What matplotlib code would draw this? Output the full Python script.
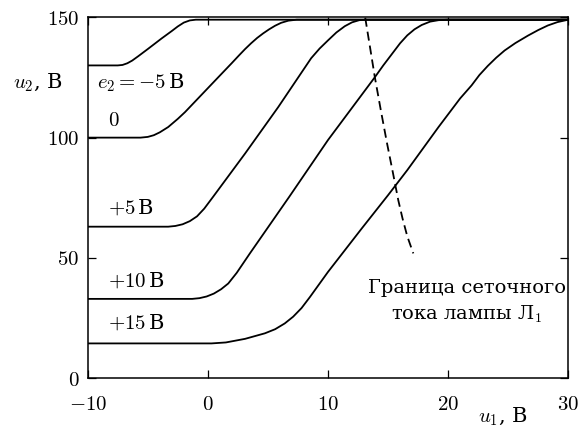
import matplotlib
matplotlib.use("Agg")
import matplotlib.pyplot as plt
import matplotlib.transforms as mtransforms

plt.rcParams['font.family'] = ['DejaVu Serif']
plt.rcParams['mathtext.fontset'] = 'cm'

# Anode characteristics u2(u1) for several grid voltages e2
x_m5 = [-10, -7.5, -7.1, -6.7, -6.3, -5.8, -5.0, -3.85, -3.0, -2.5, -2.0, -1.5, -1.0, 30]
y_m5 = [130, 130, 130.2, 130.9, 132.0, 133.8, 136.8, 141.2, 144.3, 146.2, 147.8, 148.7, 149, 149]

x_0 = [-10, -5.6, -5.0, -4.5, -4.0, -3.3, -2.5, -1.9, 0.87, 2.0, 2.6, 3.1, 3.6, 4.1, 4.6,
       5.1, 5.6, 6.1, 6.7, 7.4, 30]
y_0 = [100, 100, 100.3, 101.0, 102.2, 104.4, 107.8, 110.6, 125.1, 131.0, 134.2, 136.8, 139.2,
       141.4, 143.3, 145.0, 146.5, 147.7, 148.6, 149, 149]

x_5 = [-10, -3.3, -2.7, -2.1, -1.5, -0.9, -0.3, 0.45, 3.1, 5.86, 8.6, 9.3, 10.0, 10.7, 11.4,
       12.0, 12.6, 13.2, 30]
y_5 = [63, 63, 63.3, 64.0, 65.3, 67.3, 70.5, 75.5, 93.4, 112.7, 133.0, 137.0, 140.4, 143.7,
       146.3, 147.9, 148.8, 149, 149]

x_10 = [-10, -1.3, -0.7, -0.1, 0.5, 1.1, 1.7, 2.4, 3.5, 6.8, 10.0, 13.9, 14.6, 15.3, 16.0,
        16.6, 17.2, 17.8, 18.5, 19.2, 20.0, 30]
y_10 = [33, 33, 33.3, 34.0, 35.2, 37.0, 39.4, 43.8, 51.9, 75.6, 99.0, 125.1, 130.0, 134.6,
        139.2, 142.5, 145.0, 146.8, 148.2, 148.8, 149, 149]

x_15 = [-10, 0.3, 1.5, 3.1, 4.75, 5.6, 6.4, 7.1, 7.8, 8.5, 10.0, 12.8, 15.0, 16.6, 19.2, 21.0,
        21.95, 22.6, 23.3, 24.0, 24.7, 25.6, 26.65, 27.5, 28.3, 29.1, 30]
y_15 = [14.5, 14.5, 14.9, 16.4, 18.7, 20.4, 22.8, 25.6, 29.2, 33.8, 44.2, 62.2, 76.1, 86.5,
        104.4, 116.3, 121.7, 126.0, 129.8, 133.2, 136.2, 139.3, 142.4, 144.7, 146.6, 148.0, 149]

# grid-current boundary (dashed)
x_gr = [13.1, 13.5, 13.9, 14.4, 14.9, 15.4, 15.85, 16.2, 16.6, 17.1]
y_gr = [149.8, 137.5, 125.1, 111.3, 98.0, 85.5, 74.0, 66.5, 59.0, 51.9]

x_ticks = [-10, 0, 10, 20, 30]
x_ticklabels = ['$-10$', '$0$', '$10$', '$20$', '$30$']
y_ticks = [0, 50, 100, 150]
y_ticklabels = ['$0$', '$50$', '$100$', '$150$']

fig = plt.figure(figsize=(5.8, 4.3), dpi=100)
ax = fig.add_axes([0.1512, 0.1202, 0.8286, 0.8396])

for xs, ys in [(x_m5, y_m5), (x_0, y_0), (x_5, y_5), (x_10, y_10), (x_15, y_15)]:
    ax.plot(xs, ys, color='black', lw=1.3, solid_joinstyle='round')
ax.plot(x_gr, y_gr, color='black', lw=1.3, linestyle=(0, (5, 2.8)))

ax.set_xlim(-10, 30)
ax.set_ylim(0, 150)
ax.set_xticks(x_ticks)
ax.set_xticklabels(x_ticklabels)
ax.set_yticks(y_ticks)
ax.set_yticklabels(y_ticklabels)
ax.tick_params(direction='in', top=True, right=True, length=5.8, width=0.9,
               labelsize=15)
ax.tick_params(axis='x', pad=12)
ax.tick_params(axis='y', pad=6)
for s in ax.spines.values():
    s.set_linewidth(1.1)

# curve labels
fs = 15
ax.text(-9.2, 123, r'$e_2 = -5\,$В', fontsize=fs, va='center', ha='left')
ax.text(-8.3, 107, '$0$', fontsize=fs, va='center', ha='left')
ax.text(-8.34, 70.7, r'$+5\,$В', fontsize=fs, va='center', ha='left')
ax.text(-8.34, 40.6, r'$+10\,$В', fontsize=fs, va='center', ha='left')
ax.text(-8.34, 23.2, r'$+15\,$В', fontsize=fs, va='center', ha='left')
ax.text(21.55, 31.7, 'Граница сеточного\nтока лампы Л$_1$', fontsize=14,
        ha='center', va='center', multialignment='center', linespacing=1.4)

# axis labels
trans_y = mtransforms.blended_transform_factory(ax.transAxes, ax.transData)
ax.text(-0.051, 122.7, r'$u_2$, В', fontsize=fs, ha='right', va='center',
        transform=trans_y)
trans_x = mtransforms.blended_transform_factory(ax.transData, ax.transAxes)
ax.text(24.6, -0.107, r'$u_1$, В', fontsize=fs, ha='center', va='center',
        transform=trans_x)

fig.savefig('out.png', dpi=100)
